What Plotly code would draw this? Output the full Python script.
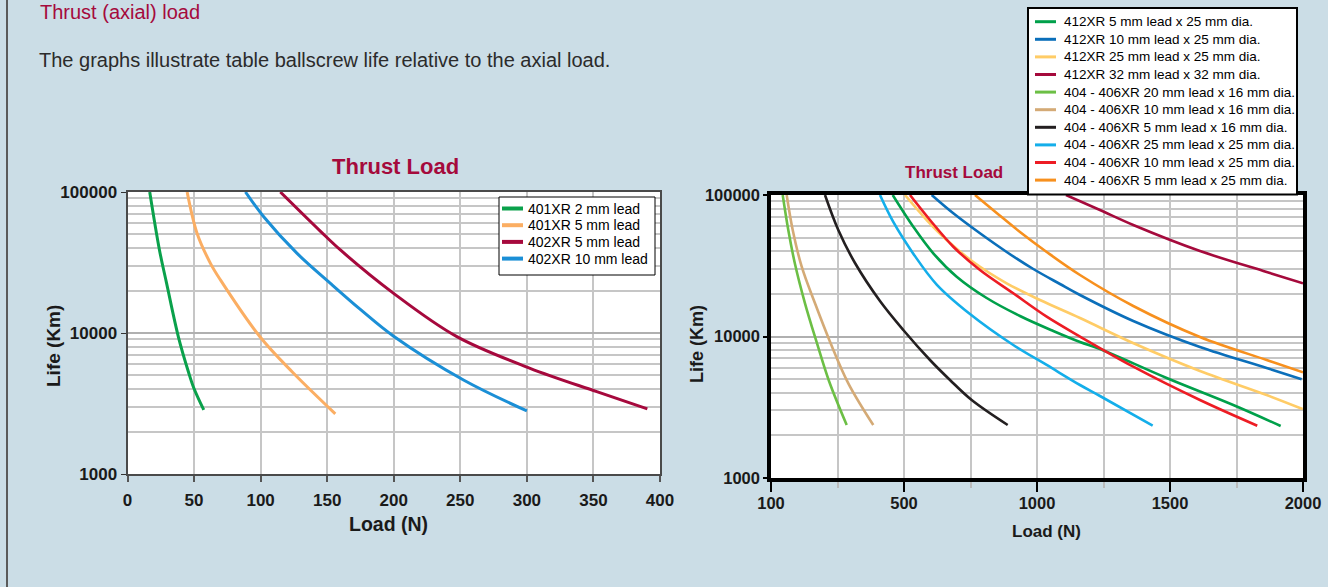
import plotly.graph_objects as go

# ---------------- data: left chart (Load N, Life km) ----------------
left_names = ["401XR 2 mm lead", "401XR 5 mm lead", "402XR 5 mm lead", "402XR 10 mm lead"]
left_colors = ["#0aa14b", "#fbae63", "#a6093d", "#1b8fd6"]
l401_2_x = [16.7, 24.0, 29.3, 38.3, 45.8, 49.8, 57.3]
l401_2_y = [100000, 38800, 22650, 9320, 5290, 4075, 2845]
l401_5_x = [44.8, 52.3, 62.3, 69.8, 99.8, 123.8, 156.1]
l401_5_y = [100000, 50800, 31200, 23800, 9330, 5290, 2670]
l402_5_x = [114.8, 144.8, 159.9, 199.9, 247.4, 302.4, 352.5, 390.5]
l402_5_y = [100000, 52800, 38800, 19100, 9420, 5620, 3840, 2900]
l402_10_x = [88.6, 102.3, 127.4, 152.4, 174.9, 199.9, 252.4, 300.0]
l402_10_y = [100000, 66800, 36700, 22500, 14700, 9480, 4640, 2800]
left_x = [l401_2_x, l401_5_x, l402_5_x, l402_10_x]
left_y = [l401_2_y, l401_5_y, l402_5_y, l402_10_y]

# ---------------- data: right chart ----------------
right_names = [
    "412XR 5 mm lead x 25 mm dia.",
    "412XR 10 mm lead x 25 mm dia.",
    "412XR 25 mm lead x 25 mm dia.",
    "412XR 32 mm lead x 32 mm dia.",
    "404 - 406XR 20 mm lead x 16 mm dia.",
    "404 - 406XR 10 mm lead x 16 mm dia.",
    "404 - 406XR 5 mm lead x 16 mm dia.",
    "404 - 406XR 25 mm lead x 25 mm dia.",
    "404 - 406XR 10 mm lead x 25 mm dia.",
    "404 - 406XR 5 mm lead x 25 mm dia.",
]
right_colors = ["#00a04a", "#0b6fba", "#ffcc66", "#a50a3c", "#6cbf45",
                "#d4aa76", "#231f20", "#14aeea", "#ed1c24", "#f7901e"]
r412_5_x = [457.5, 534.9, 610.1, 698.1, 810.8, 936.0, 1061.2, 1161.6, 1236.8, 1487.4, 1737.8, 1916.0]
r412_5_y = [100000, 59700, 38730, 26470, 18710, 13960, 10940, 9145, 8160, 5090, 3280, 2331]
r412_10_x = [604.1, 685.3, 785.6, 886.0, 986.0, 1086.4, 1161.6, 1361.9, 1612.6, 1863.3, 1994.9]
r412_10_y = [100000, 74270, 53620, 39560, 29990, 23500, 19650, 12870, 8430, 5990, 4983]
r412_25_x = [503.7, 585.3, 660.5, 760.5, 886.0, 1011.2, 1161.6, 1360.8, 1612.6, 1863.3, 1998.6]
r412_25_y = [100000, 66570, 48080, 33620, 23770, 18110, 13510, 9000, 5706, 3860, 3073]
r412_32_x = [1108.9, 1236.7, 1361.9, 1612.6, 1863.3, 2000.0]
r412_32_y = [100000, 78340, 61380, 40200, 28570, 23770]
r404_20x16_x = [44.0, 65.0, 90.2, 127.8, 171.0, 218.0, 284.6]
r404_20x16_y = [100000, 56580, 32540, 17160, 9190, 4850, 2369]
r404_10x16_x = [59.0, 81.6, 115.4, 165.4, 221.8, 290.6, 384.5]
r404_10x16_y = [100000, 56580, 31140, 17160, 9190, 4670, 2369]
r404_5x16_x = [203.0, 253.0, 315.8, 409.7, 497.3, 597.7, 672.9, 754.4, 889.8]
r404_5x16_y = [100000, 56580, 33070, 17820, 11120, 6823, 4928, 3557, 2369]
r404_25x25_x = [409.7, 459.7, 534.9, 622.9, 748.0, 910.8, 1036.4, 1161.6, 1236.8, 1434.8]
r404_25x25_y = [100000, 64450, 38500, 23300, 14420, 8710, 6290, 4542, 3798, 2342]
r404_10x25_x = [522.5, 597.7, 685.3, 785.6, 910.8, 1036.4, 1161.6, 1361.9, 1612.6, 1828.0]
r404_10x25_y = [100000, 66570, 43110, 29510, 20200, 13810, 9990, 6118, 3557, 2342]
r404_5x25_x = [766.8, 848.4, 936.0, 1036.4, 1161.6, 1361.9, 1612.6, 1863.3, 2000.0]
r404_5x25_y = [100000, 74630, 54760, 39560, 27200, 16430, 9920, 6823, 5585]
right_x = [r412_5_x, r412_10_x, r412_25_x, r412_32_x, r404_20x16_x,
           r404_10x16_x, r404_5x16_x, r404_25x25_x, r404_10x25_x, r404_5x25_x]
right_y = [r412_5_y, r412_10_y, r412_25_y, r412_32_y, r404_20x16_y,
           r404_10x16_y, r404_5x16_y, r404_25x25_y, r404_10x25_y, r404_5x25_y]

left_xticks = [0, 50, 100, 150, 200, 250, 300, 350, 400]
right_xticks = [0, 500, 1000, 1500, 2000]
right_xticktext = ["100", "500", "1000", "1500", "2000"]
y_ticks = [1000, 10000, 100000]
y_ticktext = ["1000", "10000", "100000"]
y_minor = [m * d for d in (1000, 10000) for m in range(2, 10)]

# ---------------- figure ----------------
W, H = 1328, 587
fx = lambda p: p / W
fy = lambda p: 1 - p / H
FONT = "Liberation Sans, Arial, sans-serif"
CRIMSON = "#a50a3c"

fig = go.Figure()
for xs, ys, name, col in zip(left_x, left_y, left_names, left_colors):
    fig.add_trace(go.Scatter(x=xs, y=ys, name=name, mode="lines", showlegend=False,
                             line=dict(color=col, width=3, shape="spline", smoothing=1.0),
                             xaxis="x", yaxis="y"))
for xs, ys, name, col in zip(right_x, right_y, right_names, right_colors):
    fig.add_trace(go.Scatter(x=xs, y=ys, name=name, mode="lines", showlegend=False,
                             line=dict(color=col, width=2.6, shape="spline", smoothing=1.0),
                             xaxis="x2", yaxis="y2"))

grid = "#c6c6c6"
tickfont_l = dict(family=FONT, size=17, color="#1a1a1a", weight="bold")
tickfont_r = dict(family=FONT, size=16.5, color="#1a1a1a", weight="bold")

fig.update_layout(
    width=W, height=H,
    margin=dict(l=0, r=0, t=0, b=0, autoexpand=False),
    paper_bgcolor="#cbdde6",
    plot_bgcolor="white",
    font=dict(family=FONT),
    showlegend=False,
    xaxis=dict(domain=[fx(127.5), fx(660)], anchor="y", range=[0, 400], automargin=False,
               tickvals=left_xticks, showgrid=True, gridcolor=grid, gridwidth=1.5,
               showline=True, linecolor="#4a4a4a", linewidth=2, mirror=True,
               ticks="outside", ticklen=6, tickwidth=1.5, tickcolor="#555",
               tickfont=tickfont_l, ticklabelstandoff=4, zeroline=False),
    yaxis=dict(domain=[fy(474), fy(192)], anchor="x", type="log", range=[3, 5], automargin=False,
               tickvals=y_ticks, ticktext=y_ticktext, showgrid=True, gridcolor="#b0b0b0",
               gridwidth=1.8, showline=True, linecolor="#4a4a4a", linewidth=2, mirror=True,
               ticks="outside", ticklen=5, tickcolor="#333", tickfont=tickfont_l,
               minor=dict(tickvals=y_minor, showgrid=True, gridcolor=grid, gridwidth=1.5, ticks=""),
               zeroline=False),
    xaxis2=dict(domain=[fx(771), fx(1303)], anchor="y2", range=[0, 2000], automargin=False,
                tickvals=right_xticks, ticktext=right_xticktext, showgrid=True,
                gridcolor=grid, gridwidth=1.5, showline=True, linecolor="black",
                linewidth=3.5, mirror=True, ticks="outside", ticklen=10, tickwidth=2,
                tickcolor="black", tickfont=tickfont_r, ticklabelstandoff=-3,
                minor=dict(dtick=250, showgrid=True, gridcolor=grid, gridwidth=1.5,
                           ticks="outside", ticklen=6, tickcolor="#bbbbbb", tickwidth=1.5),
                zeroline=False),
    yaxis2=dict(domain=[fy(478), fy(195)], anchor="x2", type="log", range=[3, 5], automargin=False,
                tickvals=y_ticks, ticktext=y_ticktext, showgrid=True, gridcolor="#b0b0b0",
                gridwidth=1.8, showline=True, linecolor="black", linewidth=3.5, mirror=True,
                ticks="outside", ticklen=4, tickwidth=2, tickcolor="black", tickfont=tickfont_r,
                minor=dict(tickvals=y_minor, showgrid=True, gridcolor=grid, gridwidth=1.5, ticks=""),
                zeroline=False),
)


def ann(text, x, y, size, color="#1a1a1a", bold=False, angle=0, xanchor="center"):
    fig.add_annotation(text=text, x=fx(x), y=fy(y), xref="paper", yref="paper",
                       xanchor=xanchor, yanchor="middle", showarrow=False, textangle=angle,
                       font=dict(family=FONT, size=size, color=color,
                                 weight="bold" if bold else "normal"))


def legend_box(names, colors, box, first_y, step, sw, text_x, fsize, sw_width, border):
    x0, y0, x1, y1 = box
    fig.add_shape(type="rect", xref="paper", yref="paper", x0=fx(x0), x1=fx(x1),
                  y0=fy(y1), y1=fy(y0), fillcolor="white",
                  line=dict(color="black", width=border), layer="above")
    for i, (name, col) in enumerate(zip(names, colors)):
        yy = first_y + i * step
        fig.add_shape(type="line", xref="paper", yref="paper", x0=fx(sw[0]), x1=fx(sw[1]),
                      y0=fy(yy), y1=fy(yy), line=dict(color=col, width=sw_width), layer="above")
        ann(name, text_x, yy, fsize, color="black", xanchor="left")


legend_box(left_names, left_colors, (499, 197, 655, 275), 208.5, 16.7, (502, 523), 526,
           14, 4, 1)
legend_box(right_names, right_colors, (1028, 8, 1297, 194.5), 21.7, 17.6, (1035, 1056), 1062,
           13.5, 3, 2)

ann("Thrust (axial) load", 38, 12, 20, color=CRIMSON, xanchor="left")
ann("The graphs illustrate table ballscrew life relative to the axial load.", 37, 60, 20,
    color="#2b2b2b", xanchor="left")
ann("Thrust Load", 395, 166, 22, color=CRIMSON, bold=True)
ann("Thrust Load", 954, 172, 17, color=CRIMSON, bold=True)
ann("Life (Km)", 53, 346, 19, bold=True, angle=-90)
ann("Life (Km)", 697, 344, 18, bold=True, angle=-90)
ann("Load (N)", 388, 524, 19.5, bold=True)
ann("Load (N)", 1046, 531, 17, bold=True)

fig.add_shape(type="line", xref="paper", yref="paper", x0=fx(7), x1=fx(7), y0=0, y1=1,
              line=dict(color="#5a5a5a", width=2))

fig.write_html("out.html", config={"displayModeBar": False},
               post_script="document.body.style.margin='0';document.body.style.overflow='hidden';")
